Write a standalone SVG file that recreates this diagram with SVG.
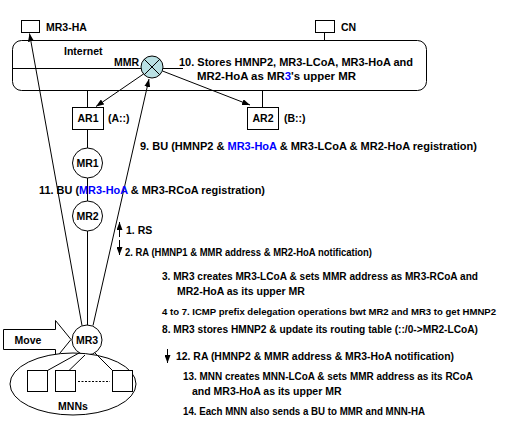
<svg xmlns="http://www.w3.org/2000/svg" width="505" height="425" viewBox="0 0 505 425">
<defs>
<marker id="ah" viewBox="0 0 8 6" refX="8" refY="3" markerWidth="8" markerHeight="6" orient="auto" markerUnits="userSpaceOnUse">
<path d="M0,0 L8,3 L0,6 z" fill="#000"/>
</marker>
<style>
text{font-family:"Liberation Sans",Arial,sans-serif;font-size:10.5px;font-weight:bold;fill:#000}
.b{fill:#0000ff}
.c{text-anchor:middle}
.ln{stroke:#000;stroke-width:1;fill:none}
.box{fill:#fff;stroke:#000;stroke-width:1}
.ar{stroke:#000;stroke-width:1;fill:none;marker-end:url(#ah)}
</style>
</defs>
<rect width="505" height="425" fill="#fff"/>

<g id="internet">
<rect x="12.5" y="40.5" width="414" height="50" rx="9" class="box"/>
<line x1="12.5" y1="68.5" x2="141" y2="68.5" class="ln"/>
<line x1="163" y1="68.5" x2="183" y2="68.5" class="ln"/>
<text x="64" y="55">Internet</text>
</g>

<g id="mmr">
<circle cx="152" cy="67" r="11" fill="#b9e0e3" stroke="#000"/>
<line x1="144.2" y1="59.2" x2="159.8" y2="74.8" class="ln"/>
<line x1="159.8" y1="59.2" x2="144.2" y2="74.8" class="ln"/>
<text x="139" y="66" text-anchor="end">MMR</text>
</g>

<g id="note10">
<text x="179" y="66" textLength="234" lengthAdjust="spacingAndGlyphs">10. Stores HMNP2, MR3-LCoA, MR3-HoA and</text>
<text x="197" y="80" textLength="159" lengthAdjust="spacingAndGlyphs">MR2-HoA as MR<tspan class="b">3</tspan>'s upper MR</text>
</g>

<g id="mr3ha">
<rect x="21.5" y="20.5" width="18" height="12" class="box"/>
<text x="46" y="31">MR3-HA</text>
</g>

<g id="cn">
<line x1="324.5" y1="32" x2="324.5" y2="40" class="ln"/>
<rect x="315.5" y="20.5" width="19" height="12" class="box"/>
<text x="341" y="31">CN</text>
</g>

<g id="ar1">
<line x1="87.5" y1="91" x2="87.5" y2="107" class="ln"/>
<rect x="72.5" y="107.5" width="31" height="22" class="box"/>
<text x="88" y="122" class="c">AR1</text>
<text x="108" y="122">(A::)</text>
</g>

<g id="ar2">
<line x1="262.5" y1="91" x2="262.5" y2="107" class="ln"/>
<rect x="247.5" y="107.5" width="31" height="22" class="box"/>
<text x="263" y="122" class="c">AR2</text>
<text x="284" y="122">(B::)</text>
</g>

<g id="mr1">
<circle cx="87.5" cy="163" r="15" class="box"/>
<text x="87.5" y="167" class="c">MR1</text>
</g>
<g id="mr2">
<circle cx="87.5" cy="216" r="15" class="box"/>
<text x="87.5" y="220" class="c">MR2</text>
</g>
<g id="mr3">
<circle cx="87" cy="340" r="15" class="box"/>
<text x="87" y="344" class="c">MR3</text>
</g>

<g id="move">
<polygon points="3.5,329.5 55.5,329.5 55.5,320.5 71,339.5 55.5,358.5 55.5,349.5 3.5,349.5" class="box"/>
<text x="28" y="343.5" class="c">Move</text>
</g>

<g id="mnns">
<ellipse cx="73" cy="384" rx="63" ry="31" class="box"/>
<rect x="27.5" y="370.5" width="20" height="21" class="box"/>
<rect x="55.5" y="370.5" width="20" height="21" class="box"/>
<rect x="112.5" y="370.5" width="20" height="21" class="box"/>
<line x1="78" y1="381.5" x2="110" y2="381.5" class="ln" stroke-dasharray="2,1.5"/>
<text x="73" y="410" class="c">MNNs</text>
</g>

<g id="connectors">
<line x1="87.5" y1="129.5" x2="87.5" y2="148" class="ln"/>
<line x1="87.5" y1="178" x2="87.5" y2="201" class="ln"/>
<line x1="87.5" y1="231" x2="87.5" y2="325" class="ln"/>
<line x1="79" y1="353" x2="47.5" y2="370.5" class="ln"/>
<line x1="85" y1="355" x2="69" y2="370.5" class="ln"/>
<line x1="95" y1="353" x2="112.5" y2="370.5" class="ln"/>
<line x1="143.5" y1="74" x2="96" y2="106.5" class="ar"/>
<line x1="162.5" y1="71" x2="250" y2="105" class="ar"/>
<line x1="82" y1="325.5" x2="29.5" y2="33.5" class="ar"/>
<line x1="93" y1="325.5" x2="149" y2="79" class="ar"/>
<line x1="119.5" y1="237" x2="119.5" y2="222" class="ar"/>
<line x1="119.5" y1="240" x2="119.5" y2="255" class="ar"/>
<line x1="167.5" y1="349" x2="167.5" y2="363" class="ar"/>
</g>

<g id="labels">
<text x="140" y="150" textLength="337" lengthAdjust="spacingAndGlyphs">9. BU (HMNP2 &amp; <tspan class="b">MR3-HoA</tspan> &amp; MR3-LCoA &amp; MR2-HoA registration)</text>
<text x="39" y="194" textLength="226" lengthAdjust="spacingAndGlyphs">11. BU (<tspan class="b">MR3-HoA</tspan> &amp; MR3-RCoA registration)</text>
<text x="126" y="234">1. RS</text>
<text x="125" y="256" textLength="247" lengthAdjust="spacingAndGlyphs">2. RA (HMNP1 &amp; MMR address &amp; MR2-HoA notification)</text>
<text x="162" y="280" textLength="316" lengthAdjust="spacingAndGlyphs">3. MR3 creates MR3-LCoA &amp; sets MMR address as MR3-RCoA and</text>
<text x="177" y="295">MR2-HoA as its upper MR</text>
<text x="162" y="315" style="font-size:9.6px" textLength="334" lengthAdjust="spacingAndGlyphs">4 to 7. ICMP prefix delegation operations bwt MR2 and MR3 to get HMNP2</text>
<text x="162" y="333" textLength="316" lengthAdjust="spacingAndGlyphs">8. MR3 stores HMNP2 &amp; update its routing table (::/0-&gt;MR2-LCoA)</text>
<text x="176" y="360" textLength="278" lengthAdjust="spacingAndGlyphs">12. RA (HMNP2 &amp; MMR address &amp; MR3-HoA notification)</text>
<text x="183" y="380" textLength="290" lengthAdjust="spacingAndGlyphs">13. MNN creates MNN-LCoA &amp; sets MMR address as its RCoA</text>
<text x="192" y="395">and MR3-HoA as its upper MR</text>
<text x="183" y="415" textLength="242" lengthAdjust="spacingAndGlyphs">14. Each MNN also sends a BU to MMR and MNN-HA</text>
</g>
</svg>
